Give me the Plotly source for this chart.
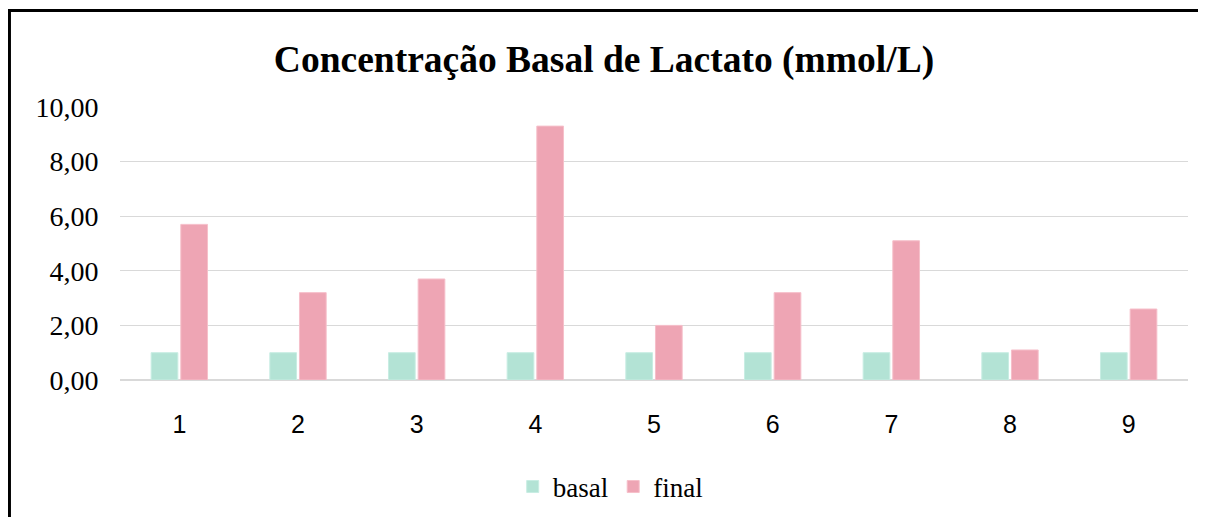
"""Bar chart: basal vs final lactate concentration per subject"""

import plotly.graph_objs as go

# data
subjects = ["1", "2", "3", "4", "5", "6", "7", "8", "9"]
basal = [1.0, 1.0, 1.0, 1.0, 1.0, 1.0, 1.0, 1.0, 1.0]
final = [5.7, 3.2, 3.7, 9.3, 2.0, 3.2, 5.1, 1.1, 2.6]
y_ticks = [0, 2, 4, 6, 8, 10]

serif = "Liberation Serif, Times New Roman, serif"
sans = "Liberation Sans, Arial, sans-serif"

fig = go.Figure()
fig.add_trace(go.Bar(
    x=subjects, y=basal, name="basal",
    marker=dict(color="#b3e3d5", line=dict(color="#c8ede3", width=1)),
))
fig.add_trace(go.Bar(
    x=subjects, y=final, name="final",
    marker=dict(color="#eea5b4", line=dict(color="#f6bfca", width=1)),
))

# the page body has an 8px margin, so the figure is 8px smaller each way
fig.update_layout(
    width=1198, height=509,
    margin=dict(l=112, r=18, t=99, b=137),
    paper_bgcolor="white", plot_bgcolor="white",
    separators=",.",
    barmode="group", bargap=0.5, bargroupgap=0.1,
    title=dict(
        text="<b>Concentração Basal de Lactato (mmol/L)</b>",
        x=0.4975, xref="container", xanchor="center",
        y=0.9, yanchor="middle",
        font=dict(family=serif, size=37.5, color="black"),
    ),
    xaxis=dict(
        type="category",
        tickfont=dict(family=sans, size=25, color="black"),
        showline=False, showgrid=False,
        ticks="outside", ticklen=22, tickcolor="rgba(0,0,0,0)",
    ),
    yaxis=dict(
        range=[0, 10], tickvals=y_ticks, tickformat=".2f",
        tickfont=dict(family=serif, size=28, color="black"),
        showgrid=True, gridcolor="#d9d9d9", gridwidth=1.3,
        zeroline=True, zerolinecolor="#d9d9d9", zerolinewidth=2,
        ticks="outside", ticklen=15, tickcolor="rgba(0,0,0,0)",
    ),
    legend=dict(
        orientation="h", x=0.459, xanchor="center",
        yref="container", y=0.059, yanchor="middle",
        font=dict(family=serif, size=27, color="black"),
        itemwidth=30,
    ),
    shapes=[
        # left and top of the surrounding frame
        dict(type="line", xref="paper", yref="paper",
             x0=-0.1035, x1=-0.1035, y0=1.3535, y1=-0.51,
             line=dict(color="black", width=3)),
        dict(type="line", xref="paper", yref="paper",
             x0=-0.1049, x1=1.1, y0=1.3535, y1=1.3535,
             line=dict(color="black", width=3)),
    ],
)

fig.write_html("out.html")
